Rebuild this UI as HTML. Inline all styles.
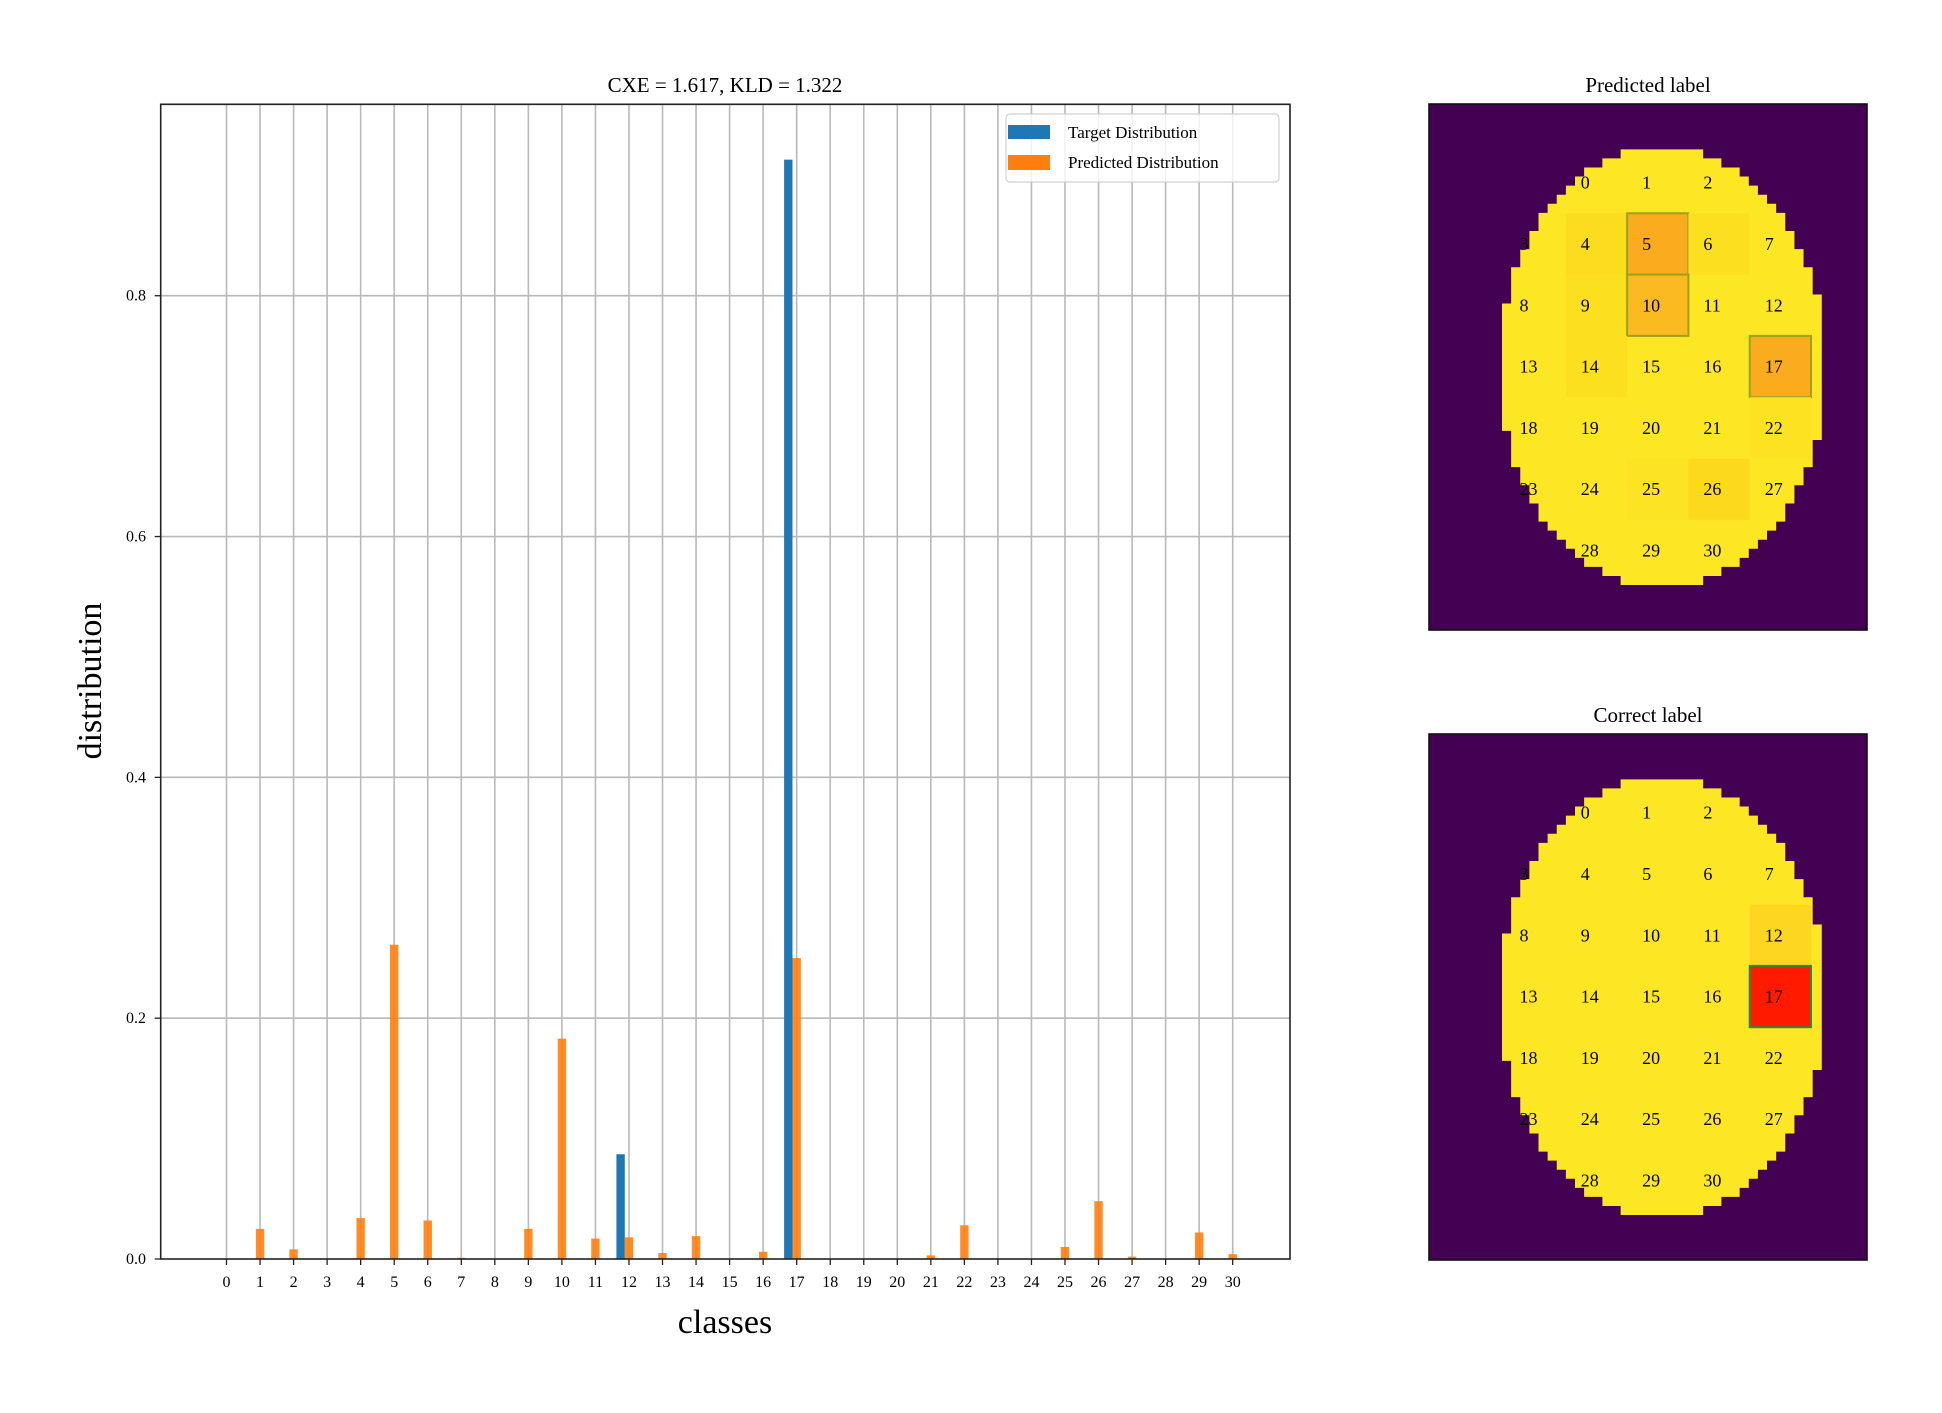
<!DOCTYPE html>
<html><head><meta charset="utf-8"><style>
html,body{margin:0;padding:0;background:#fff;}
svg{display:block;font-family:"Liberation Serif",serif;}
</style></head><body>
<svg id="fig" width="1942" height="1413" viewBox="0 0 1942 1413" xmlns="http://www.w3.org/2000/svg">
<rect x="0" y="0" width="1942" height="1413" fill="#fff"/>
<g id="grid"></g>
<g id="bars"></g>
<rect x="160.7" y="104.3" width="1129.3" height="1154.7" fill="none" stroke="#222" stroke-width="1.6"/>
<g id="ticks"></g>
<text x="725" y="92" font-size="21" text-anchor="middle">CXE = 1.617, KLD = 1.322</text>
<text x="725" y="1333" font-size="34" text-anchor="middle">classes</text>
<text x="0" y="0" font-size="34" text-anchor="middle" transform="translate(101,681) rotate(-90)">distribution</text>
<g>
<rect x="1006" y="114" width="273" height="68" rx="4" fill="#fff" fill-opacity="0.8" stroke="#d0d0d0" stroke-width="1.2"/>
<rect x="1008" y="125" width="42" height="14" fill="#1f77b4"/>
<text x="1068" y="138" font-size="17">Target Distribution</text>
<rect x="1008" y="155" width="42" height="15" fill="#ff7f0e"/>
<text x="1068" y="168" font-size="17">Predicted Distribution</text>
</g>
<text x="1648" y="92" font-size="21" text-anchor="middle">Predicted label</text>
<text x="1648" y="722" font-size="21" text-anchor="middle">Correct label</text>
<g id="pred"></g>
<g id="corr"></g>
</svg>
<script>
const classes = [0,1,2,3,4,5,6,7,8,9,10,11,12,13,14,15,16,17,18,19,20,21,22,23,24,25,26,27,28,29,30];
const targetValues = [0,0,0,0,0,0,0,0,0,0,0,0,0.087,0,0,0,0,0.913,0,0,0,0,0,0,0,0,0,0,0,0,0];
const predictedValues = [0,0.025,0.008,0,0.034,0.261,0.032,0.001,0,0.025,0.183,0.017,0.018,0.005,0.019,0,0.006,0.25,0,0,0,0.003,0.028,0,0,0.01,0.048,0.002,0,0.022,0.004];
const yTicks = [0.0,0.2,0.4,0.6,0.8];
const yTickLabels = ["0.0","0.2","0.4","0.6","0.8"];
const cellLabels = [[null,0,1,2,null],[3,4,5,6,7],[8,9,10,11,12],[13,14,15,16,17],[18,19,20,21,22],[23,24,25,26,27],[null,28,29,30,null]];
const predCellShades = {4:"#fcdc1f",5:"#fbab1e",6:"#fce020",9:"#fce020",10:"#fbba20",14:"#fce020",17:"#fbab1e",22:"#fce220",25:"#fce424",26:"#fdd91e"};
const predBorders = [5,10,17];
const corrCellShades = {12:"#fcd620",17:"#ff1a00"};
const corrBorders = [17];

const NS="http://www.w3.org/2000/svg";
function mk(tag,attrs,parent){const e=document.createElementNS(NS,tag);for(const k in attrs)e.setAttribute(k,attrs[k]);parent.appendChild(e);return e;}
const X0=160.7,X1=1290,Y0=1259,Ytop=104.3;
const step=33.54;
function xs(c){return 226.5+c*step;}
function ys(v){return Y0-v*1204.1;}
const grid=document.getElementById('grid'),bars=document.getElementById('bars'),ticks=document.getElementById('ticks');
classes.forEach((c,i)=>{
  const gl=mk('line',{x1:xs(c),x2:xs(c),y1:Ytop,y2:Y0,stroke:'#b9b9b9','stroke-width':1.6},grid);
  
  
  const t=mk('line',{x1:xs(c),x2:xs(c),y1:Y0,y2:Y0+6,stroke:'#222','stroke-width':1.3},ticks);
  
  
  const tl=mk('text',{x:xs(c),y:Y0+28,'font-size':16,'text-anchor':'middle'},ticks);
  tl.textContent=String(c);
  
  
});
yTicks.forEach((v,i)=>{
  if(v>0){const gl=mk('line',{x1:X0,x2:X1,y1:ys(v),y2:ys(v),stroke:'#b9b9b9','stroke-width':1.6},grid);
  
  }
  const t=mk('line',{x1:X0-6,x2:X0,y1:ys(v),y2:ys(v),stroke:'#222','stroke-width':1.3},ticks);
  
  
  const tl=mk('text',{x:146,y:ys(v)+5,'font-size':16,'text-anchor':'end'},ticks);
  tl.textContent=yTickLabels[i];
  
  
});
const bw=step*0.25;
classes.forEach((c,i)=>{
  if(targetValues[i]>0){const r=mk('rect',{x:xs(c)-1.5*bw,y:ys(targetValues[i]),width:bw,height:Y0-ys(targetValues[i]),fill:'#1f77b4'},bars);
  
  }
  if(predictedValues[i]>0){const r=mk('rect',{x:xs(c)-0.5*bw,y:ys(predictedValues[i]),width:bw,height:Y0-ys(predictedValues[i]),fill:'#ff7f0e','fill-opacity':0.9},bars);
  
  }
});
function drawMap(g,top,shades,borders){
  const L=1429,W=438,H=526;
  const bg=mk('rect',{x:L,y:top,width:W,height:H,fill:'#440154'},g);
  
  
  const nx=48,ny=58,pw=W/nx,ph=H/ny;
  const cx=1662,cy=top+263,rx=163,ry=220;
  let d='';
  for(let j=0;j<ny;j++)for(let i=0;i<nx;i++){
    const px=L+(i+0.5)*pw,py=top+(j+0.5)*ph;
    const q=((px-cx)/rx)**2+((py-cy)/ry)**2;
    if(q<=1)d+=`M${(L+i*pw).toFixed(2)} ${(top+j*ph).toFixed(2)}h${(pw+0.4).toFixed(2)}v${(ph+0.4).toFixed(2)}h-${(pw+0.4).toFixed(2)}z`;
  }
  const e=mk('path',{d:d,fill:'#fde725'},g);
  
  
  const cL=1504.5,cw=61.3,rT=top+48;
  cellLabels.forEach((row,r)=>row.forEach((lab,c)=>{
    if(lab===null)return;
    const x=cL+c*cw,y=rT+r*cw;
    if(shades[lab]){
      const isB=borders.indexOf(lab)>=0;
      const cr=mk('rect',{x:x,y:y,width:cw,height:cw,fill:shades[lab],stroke:isB?(shades[lab]=='#ff1a00'?'#2a8a3a':'#9aa21e'):'none','stroke-width':2},g);
      
      
    }
    const t=mk('text',{x:x+15,y:y+cw/2+6,'font-size':18},g);
    t.textContent=String(lab);
    
    
  }));
  const fr=mk('rect',{x:L,y:top,width:W,height:H,fill:'none',stroke:'#111','stroke-width':1.6},g);
  
  
}
drawMap(document.getElementById('pred'),104,predCellShades,predBorders);
drawMap(document.getElementById('corr'),734,corrCellShades,corrBorders);
</script>
</body></html>
